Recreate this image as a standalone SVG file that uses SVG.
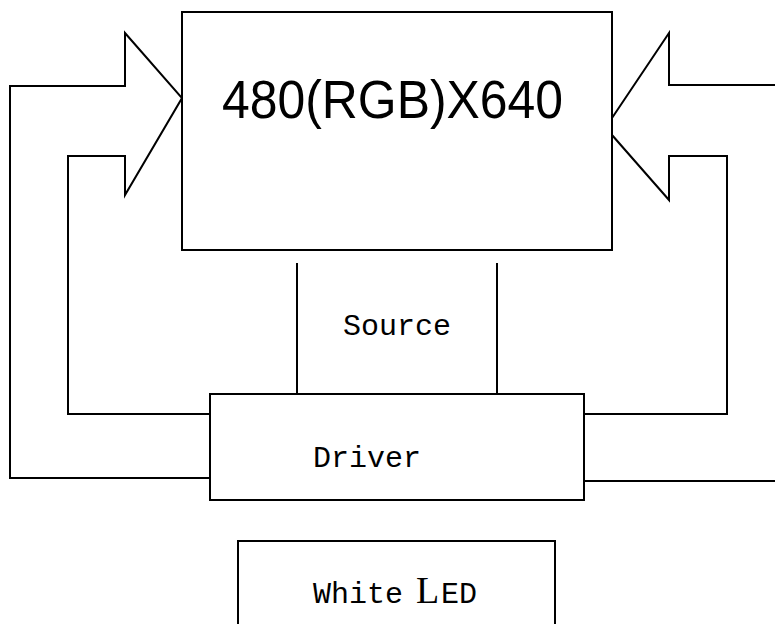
<svg xmlns="http://www.w3.org/2000/svg" width="775" height="624" viewBox="0 0 775 624">
<style>
.ln{fill:none;stroke:#000;stroke-width:2}
.box{fill:#fff;stroke:#000;stroke-width:2}
.mono{font-family:"Liberation Mono","DejaVu Sans Mono",monospace;font-size:30px;fill:#000}
</style>
<rect width="775" height="624" fill="#fff"/>
<g id="connectors">
<polyline class="ln" points="210,478 10,478 10,86 125,86 125,33 182,98 125,195 125,156 68,156 68,414 210,414"/>
<polyline class="ln" points="584,481 775,481"/>
<polyline class="ln" points="775,85 669,85 669,33 612,118 612,135 669,200 669,156 727,156 727,414 584,414"/>
<line class="ln" x1="297" y1="263" x2="297" y2="394"/>
<line class="ln" x1="497" y1="263" x2="497" y2="394"/>
<text class="mono" x="343" y="335">Source</text>
</g>
<g id="panel">
<rect class="box" x="182" y="12" width="430" height="238"/>
<text x="222" y="118" textLength="341" lengthAdjust="spacingAndGlyphs" font-family="Liberation Sans, Arial, sans-serif" font-size="54">480(RGB)X640</text>
</g>
<g id="driver">
<rect class="box" x="210" y="394" width="374" height="106"/>
<text class="mono" x="313" y="467">Driver</text>
</g>
<g id="led">
<rect class="box" x="238" y="541" width="317" height="90"/>
<text x="313" y="603" class="mono">White</text>
<text x="416" y="603" font-family="Liberation Serif, serif" font-size="38">L</text>
<text x="441" y="603" class="mono" font-size="27">ED</text>
</g>
</svg>
